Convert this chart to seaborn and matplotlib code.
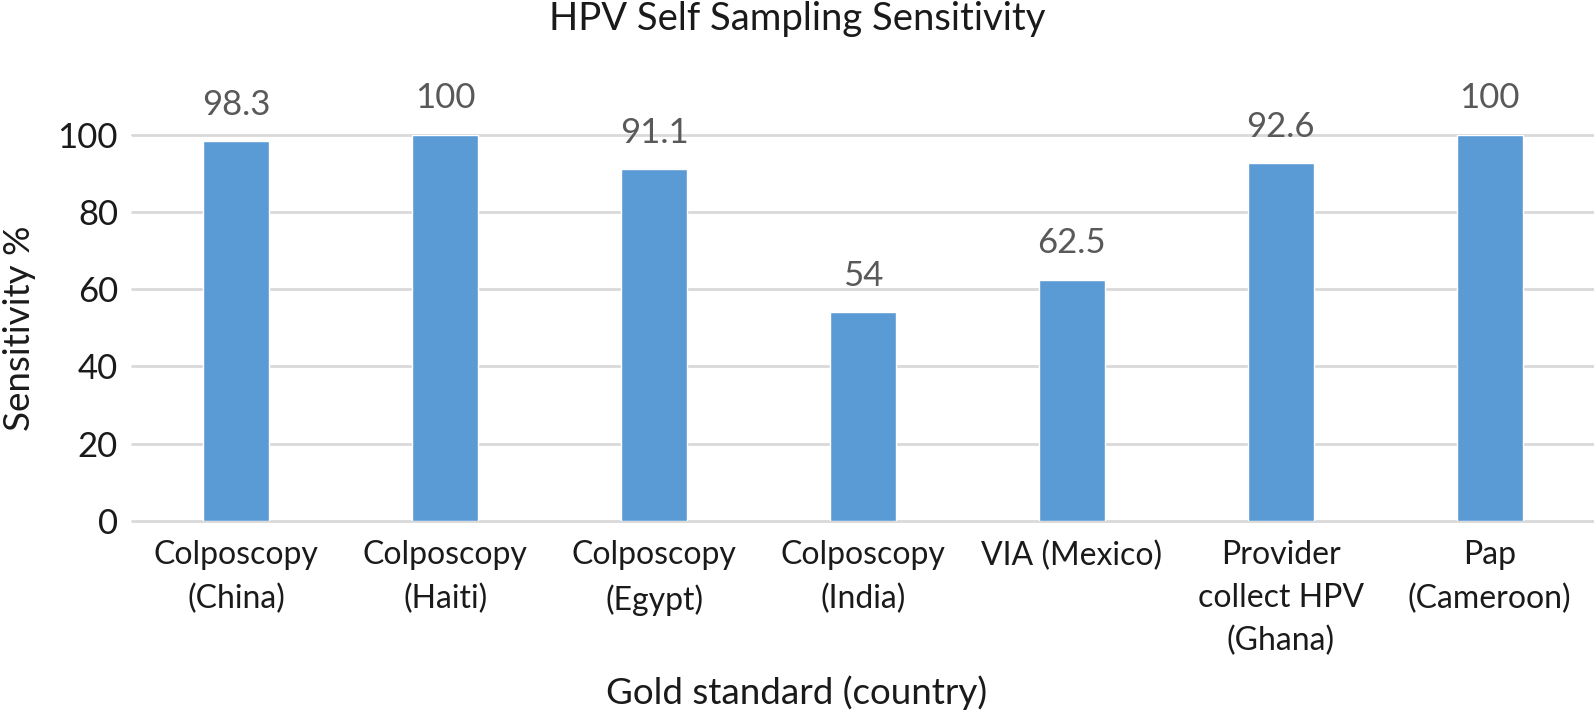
import matplotlib
matplotlib.use("Agg")
import matplotlib.pyplot as plt
import seaborn as sns
import pandas as pd

categories = ["Colposcopy\n(China)", "Colposcopy\n(Haiti)", "Colposcopy\n(Egypt)",
              "Colposcopy\n(India)", "VIA (Mexico)", "Provider\ncollect HPV\n(Ghana)",
              "Pap\n(Cameroon)"]
values = [98.3, 100, 91.1, 54, 62.5, 92.6, 100]
value_labels = ["98.3", "100", "91.1", "54", "62.5", "92.6", "100"]
yticks = [0, 20, 40, 60, 80, 100]

sns.set_theme(style="white")
plt.rcParams['font.family'] = ['Lato', 'DejaVu Sans']
FS = 25

fig = plt.figure(figsize=(15.94, 7.10), dpi=100)
ax = fig.add_axes([132/1594, 1-521/710, 1-132/1594, (521-134.7)/710])

df = pd.DataFrame({"cat": categories, "val": values})
sns.barplot(data=df, x="cat", y="val", color="#5B9BD5", saturation=1, width=0.316, ax=ax, zorder=3)

ax.set_ylim(0, 100)
ax.set_xlim(-0.5, 6.5)
ax.set_yticks(yticks)
ax.set_yticklabels([str(t) for t in yticks])
for t in yticks:
    ax.axhline(t, color="#D9D9D9", lw=2, zorder=1, clip_on=False)
for s in ax.spines.values():
    s.set_visible(False)
ax.tick_params(axis="y", length=0, pad=10, labelsize=FS, labelcolor="#1a1a1a")
ax.tick_params(axis="x", length=0, pad=14, labelsize=23, labelcolor="#1a1a1a")
for lbl in ax.get_xticklabels():
    lbl.set_linespacing(1.53)

for i, (v, s) in enumerate(zip(values, value_labels)):
    ax.annotate(s, (i, v), xytext=(0, 19), textcoords="offset points",
                ha="center", va="baseline", fontsize=FS, color="#595959", annotation_clip=False)

ax.set_xlabel("")
ax.set_ylabel("")
fig.text(0.5, 1-19/710, "HPV Self Sampling Sensitivity", ha="center", va="center", fontsize=27.5, color="#1a1a1a")
fig.text(0.5, 1-693/710, "Gold standard (country)", ha="center", va="center", fontsize=26.5, color="#1a1a1a")
fig.text(20/1594, 1-328/710, "Sensitivity %", ha="center", va="center", rotation=90, fontsize=26.5, color="#1a1a1a")

fig.savefig("out.png", dpi=100)
